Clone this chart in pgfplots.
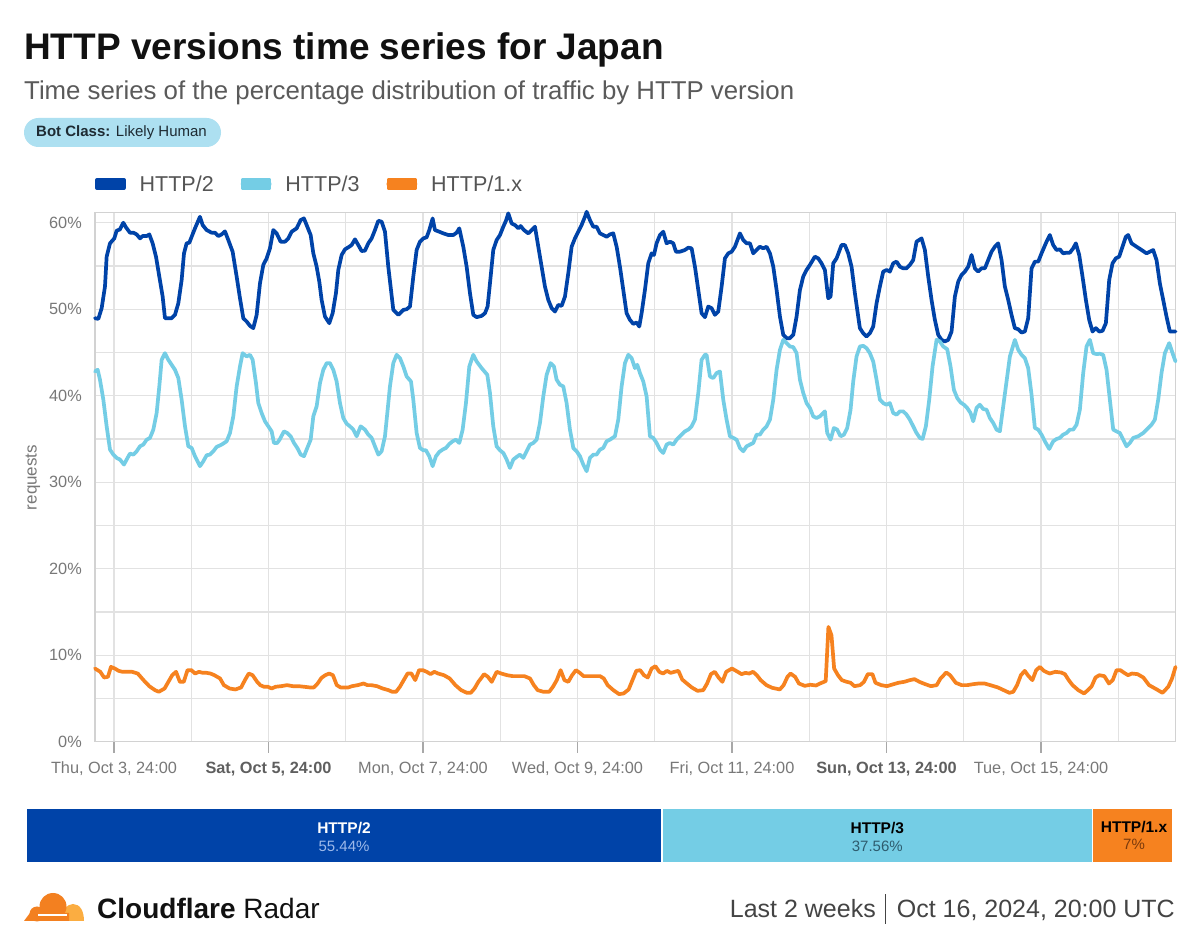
\documentclass[border=0pt]{standalone}
\usepackage{pgfplots}
\pgfplotsset{compat=1.18}
\usepackage{pgfplotstable}
\usepackage{fontspec}
\setmainfont{Liberation Sans}
\definecolor{hdark}{HTML}{0043A8}
\definecolor{hlight}{HTML}{74CDE5}
\definecolor{horange}{HTML}{F6821F}
\definecolor{titlec}{HTML}{111111}
\definecolor{subc}{HTML}{5A5A5A}
\definecolor{legc}{HTML}{555555}
\definecolor{tickc}{HTML}{787878}
\definecolor{tickbold}{HTML}{5F5F5F}
\definecolor{axisc}{HTML}{D2D2D2}
\definecolor{gridc}{HTML}{E2E2E2}
\definecolor{tickmark}{HTML}{A8A8A8}
\definecolor{badgec}{HTML}{ADE0F1}
\definecolor{badgetext}{HTML}{1E2B33}
\definecolor{footc}{HTML}{444444}
\definecolor{dorange}{HTML}{F38020}
\definecolor{lorange}{HTML}{FBAD41}
\definecolor{pcttwo}{HTML}{9DB9EA}
\definecolor{pctthree}{HTML}{2E5C6E}
\definecolor{pctone}{HTML}{7A3A0C}

\pgfplotstableread{
h v
-5.9 48.96
-4.87 48.88
-3.83 50.12
-2.8 52.62
-2.28 56.08
-1.24 57.62
0.1 58.19
0.83 59.08
1.86 59.23
2.9 60.0
3.73 59.46
4.97 58.85
6.0 58.85
7.04 58.65
8.08 58.19
8.9 58.46
10.15 58.46
10.98 58.65
12.01 57.62
13.05 56.08
14.08 53.77
15.12 51.46
15.84 48.96
16.88 48.96
17.91 48.96
18.95 49.35
19.99 50.69
21.02 53.38
21.75 56.46
22.57 57.62
23.4 57.69
24.13 58.38
25.16 59.35
26.71 60.69
27.54 59.73
28.79 59.15
30.34 58.85
31.38 58.85
32.41 58.46
33.45 58.65
34.48 59.0
35.52 58.0
36.86 56.65
38.11 53.77
39.14 51.27
40.18 48.96
41.21 48.58
42.25 48.08
43.28 47.81
44.32 49.35
45.36 53.0
46.39 55.12
47.43 55.88
48.46 57.04
49.5 59.15
50.53 58.77
51.77 57.81
53.12 57.81
54.16 58.19
55.19 58.96
56.75 59.35
57.99 60.31
59.02 60.5
60.06 59.54
61.1 58.58
61.93 56.46
62.96 54.92
63.79 53.19
64.51 51.08
65.55 49.15
66.89 48.38
67.93 49.54
68.96 51.85
69.69 54.54
70.73 56.27
71.76 56.92
73.11 57.23
73.83 57.42
74.87 58.08
75.9 57.42
76.94 56.73
77.97 56.77
79.01 57.62
80.05 58.19
81.08 59.15
82.12 60.23
83.15 60.12
84.19 58.96
85.22 54.92
86.78 49.92
88.33 49.35
89.89 49.92
90.92 50.0
91.96 50.31
92.99 53.77
94.03 56.85
95.06 57.81
96.1 58.19
97.13 58.31
97.96 59.15
99.0 60.5
99.72 59.15
101.07 58.96
102.31 58.77
103.86 58.58
105.42 58.58
106.45 58.85
107.28 59.35
108.52 57.23
109.56 54.92
110.6 51.85
111.63 49.35
112.67 49.08
114.22 49.23
115.26 49.54
116.08 50.31
116.81 53.0
117.84 56.85
118.88 58.0
119.92 58.58
120.95 59.54
121.78 60.23
122.5 61.08
123.54 59.92
124.57 59.73
125.61 59.35
126.34 59.62
127.37 59.15
128.72 58.77
129.75 59.15
130.79 59.54
131.82 57.23
132.86 54.92
133.89 52.62
134.93 51.08
135.97 50.12
137.0 49.73
138.04 50.5
139.07 50.38
140.11 51.46
141.14 54.15
142.18 57.23
143.21 58.19
144.25 58.96
145.28 59.73
146.32 60.69
146.84 61.27
147.87 60.31
148.91 59.54
149.94 59.54
150.98 58.77
152.02 58.58
153.05 58.38
154.09 58.65
155.12 58.77
156.16 57.23
157.19 54.92
158.23 52.23
159.26 49.54
160.3 48.77
161.34 48.31
162.37 48.46
163.2 48.0
163.92 49.54
164.96 52.23
165.99 55.31
167.03 56.46
167.76 56.27
168.58 57.62
169.62 58.58
170.65 58.96
171.69 57.62
172.73 57.81
173.76 57.62
174.59 56.65
175.83 56.65
177.39 56.85
178.42 57.12
179.46 57.04
180.49 54.92
181.53 52.23
182.56 49.54
183.6 49.08
184.63 50.31
185.67 50.12
186.7 49.35
187.74 49.73
188.78 52.62
189.81 55.88
190.85 56.46
191.88 56.65
192.92 57.23
194.47 58.77
195.51 58.0
196.54 57.62
197.58 57.62
198.61 56.46
199.65 56.85
200.68 57.23
201.72 57.04
202.76 57.23
203.79 56.46
204.83 54.92
205.86 52.23
206.9 49.15
207.93 47.04
208.97 46.65
210.0 46.65
211.04 47.04
212.07 49.15
213.11 52.23
214.14 53.77
215.17 54.54
216.21 55.12
217.76 56.08
218.8 55.88
219.83 55.31
220.87 54.54
221.9 51.27
222.63 51.46
223.46 55.31
224.49 55.88
226.04 57.42
227.08 57.42
228.11 56.46
229.15 54.92
230.19 51.85
231.22 49.15
231.74 47.81
232.77 47.23
233.81 46.85
234.85 47.23
235.88 48.0
236.92 50.69
237.95 52.62
238.99 54.35
240.02 54.54
241.06 54.35
242.09 55.31
243.13 55.5
244.17 54.92
245.2 54.73
246.24 54.73
247.27 55.12
248.31 55.69
249.34 57.81
250.9 58.19
251.93 56.85
252.97 53.77
254.0 51.08
255.04 48.77
256.07 47.04
257.11 46.46
258.14 46.27
259.18 46.46
260.22 47.42
261.25 51.46
262.29 53.19
263.32 53.96
264.36 54.35
265.39 54.92
266.43 56.27
267.46 54.73
268.5 54.35
269.54 54.73
270.57 54.73
271.61 55.69
272.64 56.65
273.68 57.23
274.71 57.62
275.75 55.69
276.78 52.62
277.82 51.08
278.85 49.35
279.89 47.81
280.93 47.69
281.96 47.31
283.0 47.42
284.03 48.96
285.07 54.73
286.1 55.5
287.14 55.5
288.17 56.46
289.73 57.81
290.76 58.58
291.8 57.42
292.83 56.85
293.87 56.92
294.9 56.46
295.94 56.54
296.98 56.54
298.01 57.04
298.84 57.62
299.88 56.27
300.91 53.77
301.95 51.08
302.98 48.77
304.02 47.42
305.05 47.81
306.09 47.42
307.12 47.5
308.16 48.38
309.2 53.38
310.23 55.31
311.27 55.88
312.3 56.08
313.34 57.23
314.37 58.38
315.1 58.58
316.13 57.62
317.69 57.23
319.24 56.85
320.79 56.46
321.83 56.65
322.86 56.85
323.9 55.69
324.93 53.0
325.97 51.08
327.0 49.15
328.04 47.42
329.8 47.42
}\httptwo

\pgfplotstableread{
h v
-5.9 42.81
-5.07 43.0
-4.35 41.85
-3.31 39.54
-2.28 36.46
-1.24 33.77
-0.21 33.19
0.83 32.81
1.86 32.62
3.1 32.04
3.93 32.62
4.97 33.31
6.0 33.19
7.04 33.58
8.08 34.15
9.11 34.35
10.15 34.92
11.18 35.12
12.22 36.08
13.25 38.0
14.08 41.08
14.81 44.15
15.84 44.92
16.88 44.15
17.91 43.58
18.95 43.0
19.99 42.04
21.02 39.54
22.06 36.46
23.09 34.15
24.13 33.96
25.16 33.0
26.71 31.85
27.75 32.42
28.79 33.12
29.82 33.19
30.86 33.58
31.89 34.08
33.45 34.35
35.0 34.73
36.04 35.69
37.07 37.62
38.11 41.08
39.14 43.38
39.97 44.92
41.21 44.54
42.25 44.73
43.08 44.15
44.11 41.46
44.84 39.15
45.87 38.0
46.91 37.04
47.94 36.46
48.98 35.88
49.7 34.54
50.74 34.54
51.57 35.0
52.81 35.88
53.85 35.69
54.88 35.31
55.92 34.54
56.95 33.96
57.99 33.19
59.02 33.0
60.06 33.96
61.1 34.92
61.93 37.62
62.96 38.77
64.0 41.46
65.03 43.0
66.07 43.77
67.1 43.77
68.14 43.0
69.17 41.65
70.21 39.15
71.24 37.42
72.28 36.77
73.31 36.46
74.35 36.08
75.39 35.31
76.63 36.46
77.97 36.08
79.01 35.5
80.05 35.12
81.08 34.15
82.12 33.19
83.15 33.58
84.19 35.31
85.02 38.38
85.74 41.08
86.78 43.77
87.81 44.73
88.85 44.35
89.89 43.38
90.92 42.23
92.27 41.65
92.99 39.54
94.03 35.69
95.06 33.96
96.1 33.69
96.92 33.69
97.96 33.0
99.0 31.85
100.03 33.0
101.07 33.5
102.1 33.77
103.14 33.96
104.18 34.42
105.21 34.73
106.25 34.92
107.28 34.54
108.32 36.08
109.35 39.15
110.39 43.38
111.63 44.73
112.67 43.96
114.22 43.19
115.98 42.42
116.81 40.31
117.84 36.46
118.88 34.15
119.92 33.69
120.95 33.38
121.99 32.62
123.02 31.65
124.06 32.62
125.09 32.92
126.13 33.19
127.16 32.81
128.2 33.58
129.24 34.35
130.27 34.54
131.31 34.92
132.34 36.85
133.38 39.92
134.41 42.42
135.65 43.77
136.69 43.38
137.52 41.85
138.55 41.27
139.59 41.08
140.62 39.15
141.66 36.08
142.7 33.96
143.73 33.58
144.77 33.0
145.8 32.04
146.84 31.27
147.87 32.81
148.91 33.19
149.94 33.19
150.98 33.77
152.02 33.96
153.05 34.73
154.09 34.92
155.64 35.31
156.67 37.23
157.71 41.08
158.75 43.77
159.78 44.73
160.82 44.35
161.85 43.19
162.58 43.58
163.41 42.62
164.44 41.65
165.48 39.92
166.51 35.31
167.55 35.12
168.58 34.54
169.62 33.77
170.65 33.38
171.69 34.35
172.73 34.54
173.76 34.35
174.8 34.92
176.35 35.5
177.39 35.88
178.42 36.08
179.46 36.46
180.49 37.23
181.53 40.31
182.56 44.15
183.6 44.73
184.11 44.73
185.15 42.23
186.19 42.04
187.22 42.62
188.26 42.81
189.29 39.54
190.33 37.23
191.36 35.31
192.4 35.12
193.44 34.92
194.47 33.96
195.51 33.58
196.54 34.15
197.58 34.35
198.61 34.54
199.65 35.5
200.68 35.5
201.72 36.08
202.76 36.46
203.79 37.23
204.83 39.54
205.86 43.0
206.9 45.31
207.93 46.46
208.97 46.08
210.0 45.69
211.04 45.62
212.07 44.92
213.11 41.85
214.14 40.31
215.17 39.15
216.21 38.58
217.24 37.62
218.28 37.42
219.31 37.62
220.87 38.19
221.59 35.69
222.63 34.92
223.66 36.27
224.7 36.08
225.73 35.31
226.77 35.5
227.8 36.27
228.84 38.38
229.67 41.65
230.7 44.54
231.74 45.69
232.77 45.77
233.81 45.5
234.85 44.92
235.88 43.96
236.92 41.85
237.95 39.54
238.99 39.15
240.02 38.96
241.06 39.15
242.09 38.0
243.13 37.81
244.17 38.19
245.2 38.19
246.24 37.81
247.27 37.23
248.31 36.46
249.34 35.69
250.38 35.12
251.21 35.0
252.24 36.46
253.28 39.54
254.31 43.38
255.56 46.46
256.59 46.27
257.63 45.69
258.87 45.38
259.9 43.38
260.94 40.69
261.98 39.73
263.01 39.23
264.05 38.96
265.08 38.58
266.12 38.0
266.95 37.04
267.98 38.58
269.02 38.96
270.05 38.46
271.09 38.38
272.12 37.42
273.16 36.85
274.2 36.08
275.23 35.88
276.27 38.77
277.3 41.65
278.34 44.54
279.89 46.46
280.93 45.31
281.96 44.73
283.0 44.35
284.03 43.19
285.07 40.12
286.1 36.27
287.14 36.08
288.17 35.5
289.21 34.73
290.56 33.85
291.8 34.73
292.83 35.0
293.87 35.12
294.9 35.5
295.94 35.69
296.98 36.08
298.01 36.08
299.05 36.65
300.08 38.38
301.12 42.62
302.15 45.69
303.19 46.46
304.22 44.92
305.26 44.81
306.29 44.85
307.33 44.73
308.37 42.99
309.4 39.54
310.44 36.08
311.47 35.88
312.51 35.69
313.54 34.92
314.58 34.15
315.61 34.54
316.65 35.12
318.2 35.31
319.76 35.69
320.79 36.08
322.34 36.65
323.38 37.23
324.42 39.54
325.45 42.62
326.49 44.92
327.83 46.08
328.87 44.92
329.8 43.96
}\httpthree

\pgfplotstableread{
h v
-5.9 8.46
-5.09 8.27
-4.26 8.08
-3.07 7.42
-1.88 7.5
-0.93 8.65
0.26 8.46
1.45 8.19
2.64 8.08
3.82 8.08
5.61 8.08
7.39 7.88
9.17 7.12
10.96 6.42
12.74 5.96
13.93 5.77
15.71 6.15
16.9 6.92
18.09 7.69
19.28 8.08
20.47 6.92
21.66 6.92
22.85 8.27
24.04 8.27
25.22 7.88
26.41 8.08
27.6 7.96
28.79 7.96
29.98 7.88
31.17 7.69
32.95 7.31
34.14 6.54
35.92 6.15
37.71 6.04
39.49 6.27
40.68 7.12
41.87 7.88
43.06 7.69
44.48 6.92
45.43 6.54
46.62 6.35
47.81 6.35
49.0 6.15
50.19 6.35
51.97 6.42
53.76 6.54
55.54 6.42
57.32 6.42
59.11 6.35
60.89 6.27
62.08 6.27
63.27 6.73
64.46 7.38
65.65 7.69
66.84 7.88
68.02 7.69
69.21 6.54
70.4 6.27
71.59 6.27
72.78 6.27
73.97 6.42
75.75 6.54
77.54 6.73
78.72 6.54
79.91 6.54
81.7 6.42
83.48 6.15
85.26 5.96
86.45 5.77
87.64 5.77
88.83 6.35
90.02 7.12
91.21 7.88
92.4 7.88
93.59 7.12
94.78 8.27
95.96 8.27
97.15 8.08
98.34 7.81
99.53 8.08
100.72 7.88
102.5 7.69
104.29 7.31
106.07 6.54
107.85 5.96
109.64 5.65
110.83 5.65
112.01 6.15
113.2 6.92
114.39 7.5
114.98 7.81
116.17 7.5
117.36 6.92
118.91 8.08
120.34 7.88
122.12 7.69
123.9 7.58
125.68 7.58
127.47 7.58
129.25 7.31
130.44 6.54
131.63 5.96
133.41 5.77
135.2 5.77
136.38 6.35
137.57 7.12
138.76 8.27
139.95 7.12
141.14 6.92
142.33 7.69
143.52 8.27
144.71 7.96
145.9 7.58
147.68 7.58
151.01 7.58
152.17 7.31
153.36 6.54
155.14 5.96
156.92 5.5
158.35 5.58
159.9 6.04
161.09 7.12
162.27 8.19
163.46 8.27
164.65 7.69
165.84 7.42
167.03 8.46
168.22 8.73
169.41 8.08
170.6 7.88
171.79 8.19
172.97 7.96
174.16 8.08
175.35 8.19
176.54 7.19
177.73 6.81
179.51 6.27
181.3 5.88
183.08 5.96
184.27 6.73
185.46 7.81
186.65 8.08
187.84 7.42
189.02 6.92
190.21 8.08
192.0 8.46
193.78 8.08
194.97 7.81
196.16 7.96
197.35 7.88
198.54 8.08
199.72 7.69
200.91 7.12
202.7 6.54
204.48 6.23
206.86 6.04
208.05 6.54
209.24 7.5
210.19 7.88
211.61 7.5
212.8 6.73
214.59 6.46
216.37 6.58
218.15 6.5
219.34 6.73
221.12 7.0
221.96 13.27
222.91 12.31
223.74 8.46
224.93 7.69
226.12 7.12
227.66 6.92
228.85 6.81
230.04 6.42
231.82 6.54
233.01 6.92
234.2 7.81
235.63 7.81
236.58 6.81
238.36 6.54
240.15 6.42
241.93 6.62
243.71 6.81
245.5 6.92
247.28 7.12
248.71 7.23
250.25 6.92
252.04 6.65
253.82 6.42
255.6 6.54
256.79 7.31
258.58 8.0
259.76 7.69
261.55 6.81
263.33 6.54
265.11 6.54
266.9 6.65
268.68 6.73
270.46 6.73
272.25 6.54
274.63 6.27
276.41 5.96
278.19 5.65
279.38 5.77
280.57 6.54
281.76 7.69
282.95 8.19
284.14 7.58
285.33 7.12
286.51 8.27
287.7 8.65
288.89 8.19
290.68 7.88
292.46 8.08
294.24 8.0
295.43 7.81
296.62 7.12
297.81 6.54
299.59 5.96
301.38 5.58
302.57 5.96
303.76 6.42
304.94 7.42
306.13 7.69
307.68 7.58
309.11 6.73
310.29 7.12
311.48 8.27
312.67 8.27
313.86 7.96
315.05 7.69
316.24 7.88
318.02 7.81
319.8 7.42
321.59 6.54
323.97 6.04
325.75 5.65
327.54 6.35
328.72 7.31
329.8 8.65
}\httpone

\begin{document}
\begin{tikzpicture}
\useasboundingbox (0pt,0pt) rectangle (1200pt,948pt);
\fill[white] (0pt,0pt) rectangle (1200pt,948pt);

% title block
\node[anchor=base west, inner sep=0pt, text=titlec, font=\fontsize{37}{44}\selectfont\bfseries] at (24pt,888.7pt) {HTTP versions time series for Japan};
\node[anchor=base west, inner sep=0pt, text=subc, font=\fontsize{25.8}{30}\selectfont] at (24pt,848.7pt) {Time series of the percentage distribution of traffic by HTTP version};
\fill[badgec, rounded corners=14.5pt] (24pt,801pt) rectangle (221pt,830pt);
\node[anchor=base west, inner sep=0pt, text=badgetext, font=\fontsize{15}{18}\selectfont] at (36pt,811.3pt) {\textbf{Bot Class:} Likely Human};

% y label
\node[rotate=90, inner sep=0pt, text=tickc, font=\fontsize{17}{20}\selectfont] at (33pt,470.5pt) {requests};

\begin{axis}[
  at={(95pt,206.3pt)}, anchor=south west,
  width=1080.5pt, height=529pt, scale only axis,
  xmin=-5.9, xmax=329.8, ymin=0, ymax=61.16,
  clip=false,
  axis line style={draw=axisc, line width=1.2pt},
  xtick={0,48,...,288},
  minor xtick={24,72,...,312},
  ytick={0,10,...,60},
  minor ytick={5,15,...,55},
  grid=both,
  major grid style={draw=gridc, line width=1.1pt},
  minor grid style={draw=gridc, line width=1.1pt},
  tick align=outside,
  major tick length=11pt,
  minor tick length=0pt,
  xtick pos=left, ytick pos=left,
  xtick style={draw=tickmark, line width=1.6pt},
  ytick style={draw=none},
  xticklabels={{Thu, Oct 3, 24:00},{\textcolor{tickbold}{\bfseries Sat, Oct 5, 24:00}},{Mon, Oct 7, 24:00},{Wed, Oct 9, 24:00},{Fri, Oct 11, 24:00},{\textcolor{tickbold}{\bfseries Sun, Oct 13, 24:00}},{Tue, Oct 15, 24:00}},
  yticklabels={0\%,10\%,20\%,30\%,40\%,50\%,60\%},
  tick label style={font=\fontsize{16.3}{19}\selectfont, text=tickc},
  xticklabel style={anchor=base, inner sep=0pt, yshift=-20.6pt},
  yticklabel style={anchor=east, inner sep=0pt, xshift=-2pt},
  legend columns=3,
  legend cell align=left,
  legend style={at={(0,1.0543)}, anchor=west, draw=none, fill=none,
    inner sep=0pt, outer sep=0pt,
    font=\fontsize{21.5}{25}\selectfont, text=legc,
    nodes={inner sep=0pt},
    /tikz/every odd column/.append style={column sep=14pt},
    /tikz/every even column/.append style={column sep=27pt}},
  legend image code/.code={\path (0pt,-4pt) rectangle (27pt,4pt);
    \fill[rounded corners=3.2pt] (0pt,-3.25pt) rectangle (27pt,3.25pt);},
]
\addplot[color=hdark, line width=3.7pt, line join=round, line cap=round] table[x=h,y=v] {\httptwo};
\addlegendentry{HTTP/2}
\addplot[color=hlight, line width=3.7pt, line join=round, line cap=round] table[x=h,y=v] {\httpthree};
\addlegendentry{HTTP/3}
\addplot[color=horange, line width=3.7pt, line join=round, line cap=round] table[x=h,y=v] {\httpone};
\addlegendentry{HTTP/1.x}
\end{axis}

% summary bar
\begin{axis}[
  at={(26pt,85pt)}, anchor=south west,
  width=1147pt, height=55pt, scale only axis,
  xmin=0, xmax=100, ymin=-0.5, ymax=0.5,
  hide axis, xbar stacked, bar width=55pt, clip=false,
]
\addplot[fill=hdark, draw=white, line width=1.5pt] coordinates {(55.44,0)};
\addplot[fill=hlight, draw=white, line width=1.5pt] coordinates {(37.56,0)};
\addplot[fill=horange, draw=white, line width=1.5pt] coordinates {(7,0)};
\end{axis}
% bar labels
\node[inner sep=0pt, text=white, font=\fontsize{15.5}{18}\selectfont\bfseries] at (344pt,120pt) {HTTP/2};
\node[inner sep=0pt, text=pcttwo, font=\fontsize{15}{18}\selectfont] at (344pt,102pt) {55.44\%};
\node[inner sep=0pt, text=black, font=\fontsize{15.5}{18}\selectfont\bfseries] at (877.3pt,120pt) {HTTP/3};
\node[inner sep=0pt, text=pctthree, font=\fontsize{15}{18}\selectfont] at (877.3pt,102pt) {37.56\%};
\node[inner sep=0pt, text=black, font=\fontsize{15.5}{18}\selectfont\bfseries] at (1134pt,121pt) {HTTP/1.x};
\node[inner sep=0pt, text=pctone, font=\fontsize{15}{18}\selectfont] at (1134pt,104pt) {7\%};

% footer logo
\fill[lorange] (65pt,27pt) -- (84pt,27pt) .. controls (84pt,37pt) and (80pt,44pt) .. (73pt,44pt) .. controls (70pt,44pt) and (67pt,42pt) .. (65pt,40pt) -- cycle;
\fill[dorange] (53pt,41.5pt) circle (13.5pt);
\fill[dorange] (37pt,34pt) circle (7.5pt);
\fill[dorange] (24pt,27pt) -- (69pt,27pt) -- (69pt,35pt) -- (30pt,35pt) -- cycle;
\draw[white, line width=1.3pt] (38pt,33pt) -- (67pt,33pt);
\node[anchor=base west, inner sep=0pt, text=titlec, font=\fontsize{28}{32}\selectfont] at (97pt,29.7pt) {\textbf{Cloudflare} Radar};
\node[anchor=base east, inner sep=0pt, text=footc, font=\fontsize{25}{30}\selectfont] at (876pt,30pt) {Last 2 weeks};
\draw[footc, line width=1pt] (885pt,24pt) -- (885pt,54pt);
\node[anchor=base east, inner sep=0pt, text=footc, font=\fontsize{25}{30}\selectfont] at (1175pt,30pt) {Oct 16, 2024, 20:00 UTC};
\end{tikzpicture}
\end{document}
